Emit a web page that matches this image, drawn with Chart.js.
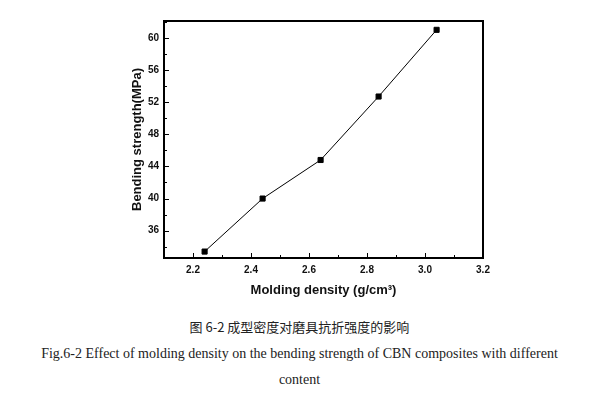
<!DOCTYPE html>
<html lang="en">
<head>
    <meta charset="UTF-8">
    <title>Bending strength vs molding density</title>
    <script src="https://cdn.jsdelivr.net/npm/chart.js"></script>
    <style>
        body { margin: 0; background: #fff; width: 599px; height: 393px; overflow: hidden; position: relative; }
        #wrap { position: absolute; left: 0; top: 0; width: 599px; height: 305px; }
        .cap { position: absolute; left: 0; width: 599px; text-align: center; color: #222; white-space: nowrap; }
        .cn { font-family: 'Noto Sans CJK SC', sans-serif; font-size: 13px; top: 317px; }
        .en { font-family: 'Liberation Serif', 'Times New Roman', serif; font-size: 14px; }
    </style>
</head>
<body>
    <div id="wrap"><canvas id="chart"></canvas></div>
    <div class="cap cn">图 6-2 成型密度对磨具抗折强度的影响</div>
    <div class="cap en" style="top:346px">Fig.6-2 Effect of molding density on the bending strength of CBN composites with different</div>
    <div class="cap en" style="top:372px">content</div>

    <script>
        // data
        const densities = [2.24, 2.44, 2.64, 2.84, 3.04];
        const strengths = [33.4, 40.0, 44.8, 52.7, 61.0];
        const xLabels = ['2.2', '2.4', '2.6', '2.8', '3.0', '3.2'];
        const yLabels = ['36', '40', '44', '48', '52', '56', '60'];

        const fontBold = { family: "'Liberation Sans', Arial, sans-serif", weight: 'bold' };

        // frame + inward tick marks
        const frame = {
            id: 'frame',
            afterDraw(chart) {
                const { ctx, chartArea: a, scales } = chart;
                ctx.save();
                ctx.strokeStyle = '#000';
                ctx.lineWidth = 1;
                scales.x.ticks.forEach(t => {
                    const px = Math.round(scales.x.getPixelForValue(t.value)) + 0.5;
                    const major = xLabels.includes(t.value.toFixed(1));
                    ctx.beginPath();
                    ctx.moveTo(px, a.bottom);
                    ctx.lineTo(px, a.bottom - (major ? 5 : 3));
                    ctx.stroke();
                });
                scales.y.ticks.forEach(t => {
                    const py = Math.round(scales.y.getPixelForValue(t.value)) + 0.5;
                    const major = yLabels.includes(String(Math.round(t.value)));
                    ctx.beginPath();
                    ctx.moveTo(a.left, py);
                    ctx.lineTo(a.left + (major ? 5 : 3), py);
                    ctx.stroke();
                });
                ctx.lineWidth = 2;
                ctx.strokeRect(a.left, a.top, a.right - a.left, a.bottom - a.top);
                ctx.restore();
            }
        };

        new Chart(document.getElementById('chart'), {
            type: 'line',
            data: {
                datasets: [{
                    data: densities.map((d, i) => ({ x: d, y: strengths[i] })),
                    borderColor: '#000',
                    borderWidth: 1,
                    backgroundColor: '#000',
                    pointStyle: 'rect',
                    pointRadius: 3.6,
                    tension: 0
                }]
            },
            options: {
                responsive: true,
                maintainAspectRatio: false,
                animation: false,
                layout: { padding: { left: 130, right: 116, top: 21, bottom: 7 } },
                plugins: { legend: { display: false }, tooltip: { enabled: false } },
                scales: {
                    x: {
                        type: 'linear',
                        min: 2.1,
                        max: 3.2,
                        grid: { display: false, drawTicks: false },
                        border: { display: false },
                        afterFit: s => { s.height = 40; },
                        ticks: {
                            stepSize: 0.1,
                            padding: 6,
                            color: '#111',
                            maxRotation: 0,
                            autoSkip: false,
                            font: { ...fontBold, size: 10 },
                            callback: v => xLabels.includes(v.toFixed(1)) ? v.toFixed(1) : ''
                        },
                        title: {
                            display: true,
                            text: 'Molding density (g/cm³)',
                            color: '#111',
                            padding: 0,
                            font: { ...fontBold, size: 13 }
                        }
                    },
                    y: {
                        min: 32.6,
                        max: 62.1,
                        grid: { display: false, drawTicks: false },
                        border: { display: false },
                        afterFit: s => { s.width = 34; },
                        ticks: {
                            stepSize: 2,
                            includeBounds: false,
                            padding: 5,
                            color: '#111',
                            autoSkip: false,
                            font: { ...fontBold, size: 10 },
                            callback: v => yLabels.includes(String(Math.round(v))) && Math.abs(v - Math.round(v)) < 1e-6 ? String(Math.round(v)) : ''
                        },
                        title: {
                            display: true,
                            text: 'Bending strength(MPa)',
                            color: '#111',
                            padding: 0,
                            font: { ...fontBold, size: 13 }
                        }
                    }
                }
            },
            plugins: [frame]
        });
    </script>
</body>
</html>
